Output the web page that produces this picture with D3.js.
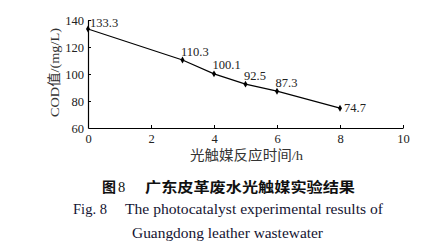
<!DOCTYPE html>
<html><head><meta charset="utf-8">
<script src="https://cdn.jsdelivr.net/npm/d3@7"></script>
<style>body{margin:0;background:#fff}svg{display:block}</style>
</head><body>
<script>
const hours = [0, 3, 4, 5, 6, 8];
const cod = [133.3, 110.3, 100.1, 92.5, 87.3, 74.7];
const xTicks = [0, 2, 4, 6, 8, 10];
const yTicks = [60, 80, 100, 120, 140];
const xTitle = "光触媒反应时间/h";
const yTitle = "COD值/(mg/L)";
const figCN = "图", figNum = "8", captionCN = "广东皮革废水光触媒实验结果";
const figEN = "Fig. 8";
const captionEN1 = "The photocatalyst experimental results of";
const captionEN2 = "Guangdong leather wastewater";

const W = 432, H = 251;
const serif = "'Liberation Serif','Times New Roman',serif";
const cjk = "'Liberation Serif','Noto Sans CJK SC',serif";
const svg = d3.select("body").append("svg").attr("width", W).attr("height", H);
const x = d3.scaleLinear().domain([0, 10]).range([88, 403]);
const y = d3.scaleLinear().domain([60, 140]).range([128, 20]);

const xAxis = d3.axisBottom(x).tickValues(xTicks).tickSizeInner(-3).tickSizeOuter(0).tickPadding(6);
const gx = svg.append("g").attr("transform", `translate(0,${y(60)})`).call(xAxis);
const yAxis = d3.axisLeft(y).tickValues(yTicks).tickSizeInner(-3).tickSizeOuter(0).tickPadding(4);
const gy = svg.append("g").attr("transform", `translate(${x(0)},0)`).call(yAxis);
[gx, gy].forEach(g => {
  g.selectAll("path.domain").attr("stroke", "#000").attr("stroke-width", 1.2);
  g.selectAll(".tick line").attr("stroke", "#000").attr("stroke-width", 1);
  g.selectAll(".tick text").attr("font-family", serif).attr("font-size", 12.5).attr("fill", "#222");
});
gy.selectAll(".tick").filter(d => d === 60).select("line").remove();
gx.selectAll(".tick text").attr("dy", "0.72em");

const line = d3.line().x((d, i) => x(hours[i])).y(d => y(d));
svg.append("path").datum(cod).attr("d", line).attr("fill", "none").attr("stroke", "#000").attr("stroke-width", 1.1);

const sym = d3.symbol().type(d3.symbolDiamond).size(14);
svg.selectAll("path.pt").data(cod).join("path").attr("class", "pt")
  .attr("d", sym).attr("transform", (d, i) => `translate(${x(hours[i])},${y(d)})`).attr("fill", "#000");

svg.selectAll("text.lbl").data(cod).join("text").attr("class", "lbl")
  .attr("x", (d, i) => x(hours[i]) + (i === 0 ? 2 : i === cod.length - 1 ? 4 : -1.5))
  .attr("y", (d, i) => y(d) + (i === 0 ? -2 : i === cod.length - 1 ? 4 : -4.5))
  .attr("font-family", serif).attr("font-size", 12.5).attr("fill", "#222")
  .text(d => d.toFixed(1));

svg.append("text").attr("x", 190).attr("y", 160).attr("textLength", 113).attr("lengthAdjust", "spacingAndGlyphs")
  .attr("font-family", cjk).attr("font-size", 13.5).attr("fill", "#333").text(xTitle);
svg.append("text").attr("transform", "translate(59,117) rotate(-90)").attr("textLength", 89).attr("lengthAdjust", "spacingAndGlyphs")
  .attr("font-family", cjk).attr("font-size", 13.5).attr("fill", "#333").text(yTitle);

const navy = "#141432";
svg.append("text").attr("x", 102).attr("y", 192)
  .attr("font-family", "'Noto Sans CJK SC',sans-serif").attr("font-weight", 700).attr("font-size", 14).attr("fill", "#111").text(figCN);
svg.append("text").attr("x", 118).attr("y", 192)
  .attr("font-family", serif).attr("font-size", 14.5).attr("fill", "#111").text(figNum);
svg.append("text").attr("x", 145).attr("y", 192).attr("textLength", 210).attr("lengthAdjust", "spacingAndGlyphs")
  .attr("font-family", "'Noto Sans CJK SC',sans-serif").attr("font-weight", 700).attr("font-size", 14).attr("fill", "#111").text(captionCN);
svg.append("text").attr("x", 73).attr("y", 214).attr("textLength", 34).attr("lengthAdjust", "spacingAndGlyphs")
  .attr("font-family", serif).attr("font-size", 14).attr("fill", navy).text(figEN);
svg.append("text").attr("x", 125).attr("y", 214).attr("textLength", 258).attr("lengthAdjust", "spacingAndGlyphs")
  .attr("font-family", serif).attr("font-size", 14).attr("fill", navy).text(captionEN1);
svg.append("text").attr("x", 132).attr("y", 238).attr("textLength", 191).attr("lengthAdjust", "spacingAndGlyphs")
  .attr("font-family", serif).attr("font-size", 14).attr("fill", navy).text(captionEN2);
</script>
</body></html>
